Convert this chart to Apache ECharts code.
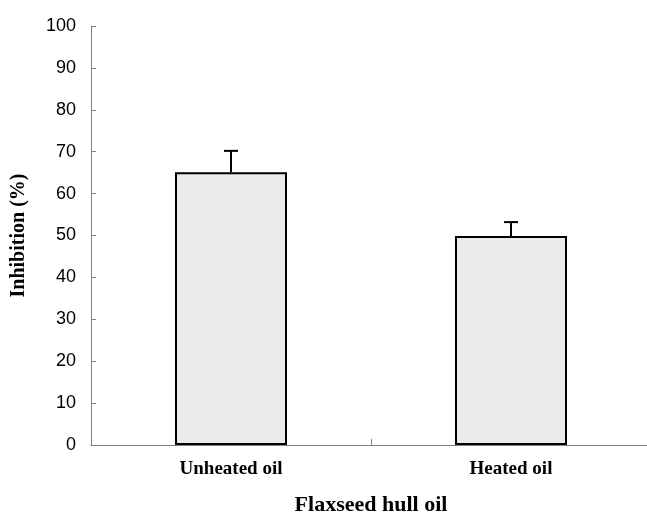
<!DOCTYPE html>
<html><head><meta charset="utf-8">
<script src="https://cdn.jsdelivr.net/npm/echarts@6/dist/echarts.min.js"></script>
<style>html,body{margin:0;padding:0;background:#fff}#c{width:647px;height:516px}</style>
</head><body><div id="c"></div>
<script>
const categories = ['Unheated oil', 'Heated oil'];
const means = [65.1, 49.9];
const errUpper = [70.2, 53.2];
const yTicks = [0, 10, 20, 30, 40, 50, 60, 70, 80, 90, 100];

const chart = echarts.init(document.getElementById('c'), null, {renderer: 'canvas'});
chart.setOption({
  animation: false,
  backgroundColor: '#fff',
  grid: {left: 91, right: -4, top: 26, bottom: 71, containLabel: false, outerBoundsMode: 'none'},
  xAxis: {
    type: 'category', data: categories,
    axisLine: {lineStyle: {color: '#808080', width: 1}},
    axisTick: {show: true, inside: true, length: 6, alignWithLabel: false, lineStyle: {color: '#808080'}},
    axisLabel: {fontFamily: 'Liberation Serif', fontWeight: 'bold', fontSize: 19, color: '#000', margin: 15},
    name: 'Flaxseed hull oil', nameLocation: 'middle', nameGap: 49,
    nameTextStyle: {fontFamily: 'Liberation Serif', fontWeight: 'bold', fontSize: 22, color: '#000'}
  },
  yAxis: {
    type: 'value', min: 0, max: 100, interval: 10,
    axisLine: {show: true, lineStyle: {color: '#808080', width: 1}},
    axisTick: {show: true, inside: true, length: 5, lineStyle: {color: '#808080'}},
    splitLine: {show: false},
    axisLabel: {fontFamily: 'Liberation Sans', fontSize: 18, color: '#000', margin: 15,
      formatter: v => yTicks.includes(v) ? String(v) : ''},
    name: 'Inhibition (%)', nameLocation: 'middle', nameGap: 62, nameRotate: 90,
    nameTextStyle: {fontFamily: 'Liberation Serif', fontWeight: 'bold', fontSize: 20, color: '#000'}
  },
  series: [
    {
      type: 'bar', data: means, barWidth: '40%',
      itemStyle: {color: '#ebebeb', borderColor: '#000', borderWidth: 2},
      z: 2
    },
    {
      type: 'custom', z: 3,
      data: categories.map((c, i) => [i, means[i], errUpper[i]]),
      renderItem: function (params, api) {
        const x = api.coord([api.value(0), api.value(1)]);
        const top = api.coord([api.value(0), api.value(2)]);
        const hw = 7;
        return {
          type: 'group',
          children: [
            {type: 'line', shape: {x1: x[0], y1: x[1], x2: top[0], y2: top[1]}, style: {stroke: '#000', lineWidth: 2}},
            {type: 'line', shape: {x1: top[0] - hw, y1: top[1], x2: top[0] + hw, y2: top[1]}, style: {stroke: '#000', lineWidth: 2}}
          ]
        };
      }
    }
  ]
});
</script></body></html>
